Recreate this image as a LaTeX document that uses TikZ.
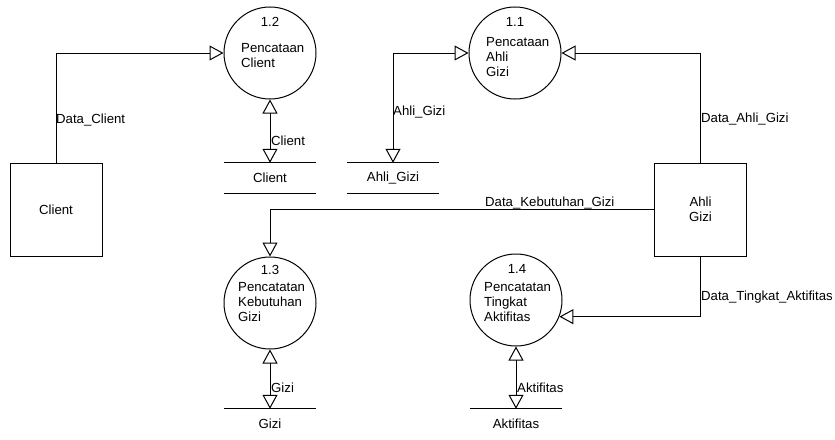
\documentclass[tikz,border=0pt]{standalone}
\usepackage{fontspec}
\setmainfont{Liberation Sans}
\usetikzlibrary{arrows.meta}
\begin{document}
\begin{tikzpicture}[x=1pt,y=-1pt,
  every node/.style={font=\fontsize{13.2}{15}\selectfont, inner sep=0pt},
  entity/.style={draw, line width=1pt, minimum width=92pt, minimum height=93pt, align=center},
  proc/.style={draw, circle, line width=1pt, minimum size=92pt},
  store/.style={minimum width=92pt, minimum height=30pt},
  flow/.style={line width=1pt, -{Triangle[open, length=14pt, width=15pt]}},
  biflow/.style={line width=1pt, {Triangle[open, length=14pt, width=15pt]}-{Triangle[open, length=14pt, width=15pt]}},
  lbl/.style={anchor=base west},
  num/.style={anchor=base},
  ptitle/.style={anchor=north west, align=left}
]
\useasboundingbox (0,0) rectangle (835,439);

% external entities
\node[entity] (client) at (56,209.5) {Client};
\node[entity] (ahli) at (700.5,209.5) {Ahli\\Gizi};

% processes
\node[proc] (p12) at (270,53) {};
\node[num] (n12) at (270,27) {1.2};
\node[ptitle] (t12) at (241,43.3) {Pencataan\\Client};

\node[proc] (p11) at (515,53) {};
\node[num] (n11) at (515,27) {1.1};
\node[ptitle] (t11) at (486,37.3) {Pencataan\\Ahli\\Gizi};

\node[proc] (p13) at (270,303) {};
\node[num] (n13) at (270,274) {1.3};
\node[ptitle] (t13) at (238,282.3) {Pencatatan\\Kebutuhan\\Gizi};

\node[proc] (p14) at (516,300) {};
\node[num] (n14) at (517,273) {1.4};
\node[ptitle] (t14) at (484,282.3) {Pencatatan\\Tingkat\\Aktifitas};

% data stores
\node[store] (sc) at (270,178) {Client};
\draw[line width=1pt] (sc.north west) -- (sc.north east) (sc.south west) -- (sc.south east);
\node[store] (sag) at (393,178) {Ahli\_Gizi};
\draw[line width=1pt] (sag.north west) -- (sag.north east) (sag.south west) -- (sag.south east);
\node[store] (sg) at (270,424) {Gizi};
\draw[line width=1pt] (sg.north west) -- (sg.north east);
\node[store] (sa) at (516,424) {Aktifitas};
\draw[line width=1pt] (sa.north west) -- (sa.north east);

% flows
\draw[flow] (client.north) |- (p12.west);
\node[lbl] (l1) at (56,123) {Data\_Client};

\draw[biflow] (p12.south) -- (sc.north);
\node[lbl] (l2) at (271,145) {Client};

\draw[flow] (ahli.north) |- (p11.east);
\node[lbl] (l3) at (701,122) {Data\_Ahli\_Gizi};

\draw[biflow] (sag.north) |- (p11.west);
\node[lbl] (l4) at (393,115) {Ahli\_Gizi};

\draw[flow] (ahli.west) -| (p13.north);
\node[lbl] (l5) at (485,206) {Data\_Kebutuhan\_Gizi};

\draw[biflow] (p13.south) -- (sg.north);
\node[lbl] (l6) at (271,392) {Gizi};

\draw[flow] (ahli.south) |- (p14.-21);
\node[lbl] (l7) at (701,300) {Data\_Tingkat\_Aktifitas};

\draw[biflow] (p14.south) -- (sa.north);
\node[lbl] (l8) at (517,392) {Aktifitas};
\end{tikzpicture}
\end{document}
